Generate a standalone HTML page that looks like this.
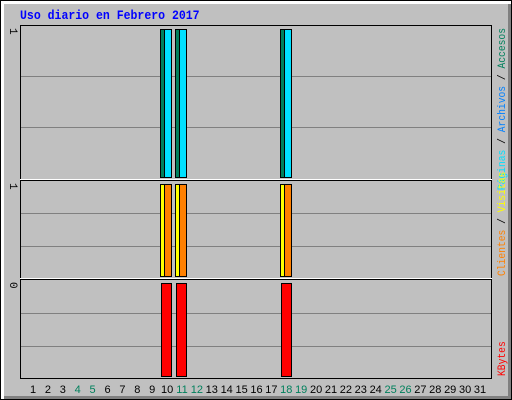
<!DOCTYPE html>
<html><head><meta charset="utf-8"><style>
html,body{margin:0;padding:0;background:#C0C0C0;}
svg{display:block;}
</style></head><body>
<svg id="chart" width="512" height="400" xmlns="http://www.w3.org/2000/svg" font-family="Liberation Mono, monospace">
<rect x="0" y="0" width="512" height="400" fill="#000"/>
<rect x="1" y="1" width="510" height="398" fill="#FFFFFF"/>
<rect x="4" y="4" width="507" height="395" fill="#808080"/>
<rect x="4" y="4" width="504" height="392" fill="#C0C0C0"/>
<text transform="translate(20,19) scale(0.887,1)" fill="#0000FF" font-size="13" font-weight="bold">Uso diario en Febrero 2017</text>
<g id="panels"></g>
<g id="marks"></g>
<g id="labels" font-family="Liberation Sans, sans-serif" font-size="11"></g>
<g id="legend" font-size="11.5"></g>
</svg>
<script>
const days = [1,2,3,4,5,6,7,8,9,10,11,12,13,14,15,16,17,18,19,20,21,22,23,24,25,26,27,28,29,30,31];
const weekendDays = [4,5,11,12,18,19,25,26];
const barDays = [10,11,18];
const hits = [1,1,1];
const files = [1,1,1];
const visits = [1,1,1];
const sites = [1,1,1];
const kbytes = [1,1,1];
const maxLabels = ["1","1","0"];

const NS="http://www.w3.org/2000/svg";
function mk(tag,attrs,parent){const e=document.createElementNS(NS,tag);for(const k in attrs)e.setAttribute(k,attrs[k]);parent.appendChild(e);return e;}
const panelsG=document.getElementById('panels'),marks=document.getElementById('marks'),labels=document.getElementById('labels'),legend=document.getElementById('legend');
const panels=[{top:25,bot:178,gy:[76,127]},{top:180,bot:277,gy:[213,246]},{top:279,bot:377,gy:[313,346]}];
const pn=['top-panel','middle-panel','bottom-panel'];
panels.forEach((p,i)=>{
  const r=mk('rect',{x:20,y:p.top,width:471,height:p.bot-p.top,fill:'#C0C0C0',stroke:'none'},panelsG);
  
  
  p.gy.forEach(g=>{const l=mk('line',{x1:21,x2:491,y1:g+0.5,y2:g+0.5,stroke:'#808080','stroke-width':1},panelsG);
    
    });
  mk('line',{x1:20,x2:492,y1:p.top+0.5,y2:p.top+0.5,stroke:'#000'},panelsG);
  mk('line',{x1:20.5,x2:20.5,y1:p.top,y2:p.bot+1,stroke:'#000'},panelsG);
  mk('line',{x1:491.5,x2:491.5,y1:p.top,y2:p.bot+1,stroke:'#000'},panelsG);
  mk('line',{x1:20,x2:492,y1:p.bot+1.5,y2:p.bot+1.5,stroke:'#FFFFFF'},panelsG);
  const t=mk('text',{x:0,y:0,fill:'#000','font-size':11,'font-family':'Liberation Mono, monospace',transform:`translate(10,${p.top+3}) rotate(90)`,'text-anchor':'start'},labels);
  t.textContent=maxLabels[i];
  
  
});
mk('line',{x1:20,x2:492,y1:378.5,y2:378.5,stroke:'#000'},panelsG);
function bx(d){return 25+15*(d-1);}
function sy(p,v,max){const b=p.bot-1,t=p.top+4;return b-(b-t)*v/max;}
function bar(x,w,p,v,max,fill,name){
  const y=sy(p,v,max);
  const r=mk('rect',{x:x+0.5,y:y+0.5,width:w,height:(p.bot-1)-y,fill:fill,stroke:'#000','stroke-width':1},marks);
  
  
}
const m1=Math.max(...hits,...files,1),m2=Math.max(...visits,...sites,1),m3=Math.max(...kbytes,1);
barDays.forEach((d,i)=>{
  const x=bx(d);
  bar(x,4,panels[0],hits[i],m1,'#00805C','bar-hits-'+d);
  bar(x+4,7,panels[0],files[i],m1,'#00E0FF','bar-files-'+d);
  bar(x,4,panels[1],visits[i],m2,'#FFFF00','bar-visits-'+d);
  bar(x+4,7,panels[1],sites[i],m2,'#FF8000','bar-sites-'+d);
  bar(x+1,10,panels[2],kbytes[i],m3,'#FF0000','bar-kbytes-'+d);
});
days.forEach((d,i)=>{
  const t=mk('text',{x:33+i*14.9,y:393,'text-anchor':'middle',fill:weekendDays.includes(d)?'#00805C':'#000'},labels);
  t.textContent=d;
  
  
});
function vlabel(parts,y,anchor,name){
  const t=mk('text',{transform:`translate(505,${y}) rotate(-90) scale(0.84,1)`,'text-anchor':anchor},legend);
  
  
  parts.forEach(([s,c])=>{const sp=mk('tspan',{fill:c},t);sp.textContent=s;});
}
vlabel([['Páginas','#00E0FF'],[' / ','#000'],['Archivos','#0080FF'],[' / ','#000'],['Accesos','#00805C']],28,'end','legend-top');
vlabel([['Clientes','#FF8000'],[' / ','#000'],['Visitas','#FFFF00']],276,'start','legend-middle');
vlabel([['KBytes','#FF0000']],376,'start','legend-bottom');
</script>
</body></html>
